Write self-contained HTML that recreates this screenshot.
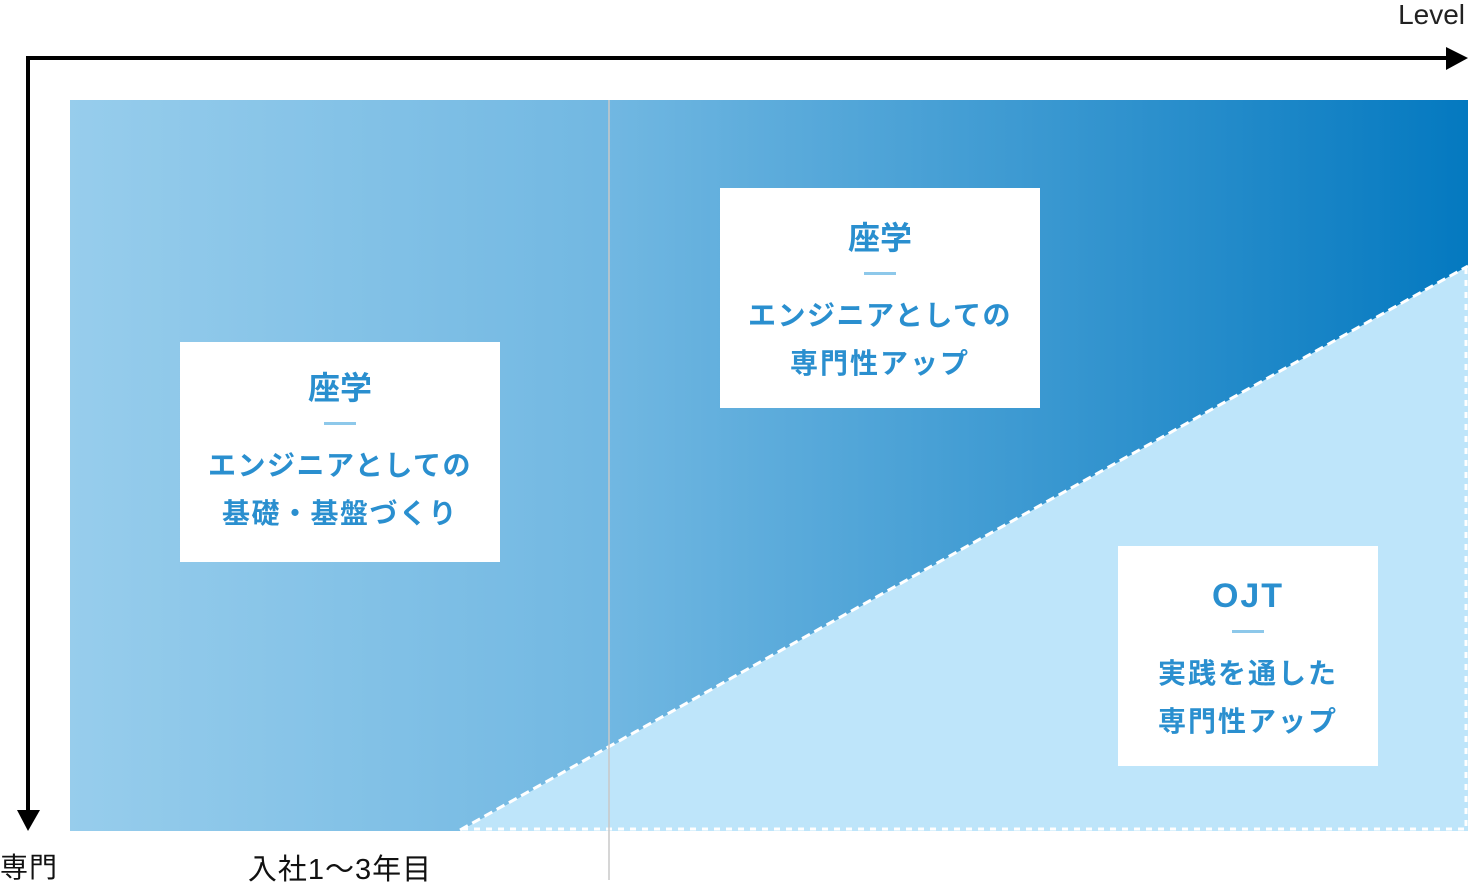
<!DOCTYPE html>
<html><head><meta charset="utf-8"><style>
html,body{margin:0;padding:0;background:#fff;}
svg{display:block}
text{font-family:"Liberation Sans","Noto Sans CJK JP",sans-serif;}
.t{fill:#2a8fcf;font-weight:bold;text-anchor:middle;}
</style></head><body>
<svg width="1468" height="883" viewBox="0 0 1468 883" xmlns="http://www.w3.org/2000/svg">
<defs>
<linearGradient id="g" x1="70" y1="0" x2="1468" y2="0" gradientUnits="userSpaceOnUse">
<stop offset="0" stop-color="#97cdec"/>
<stop offset="0.38" stop-color="#72b8e2"/>
<stop offset="1" stop-color="#0479c0"/>
</linearGradient>
</defs>
<rect x="70" y="100" width="1398" height="731" fill="url(#g)"/>
<polygon points="460,831 1468,266 1468,831" fill="#bee5fa"/>
<line x1="460" y1="830" x2="1468" y2="266" stroke="#fff" stroke-width="3" stroke-dasharray="9,5"/>
<line x1="462" y1="829" x2="1466" y2="829" stroke="#fff" stroke-width="3" stroke-dasharray="6,6"/>
<line x1="1466" y1="268" x2="1466" y2="830" stroke="#fff" stroke-width="3" stroke-dasharray="6,6"/>
<line x1="609" y1="100" x2="609" y2="880" stroke="#c8c8c8" stroke-width="1.5"/>
<polyline points="1448,58 28,58 28,812" fill="none" stroke="#000" stroke-width="4"/>
<polygon points="1446,47 1468,58 1446,70" fill="#000"/>
<polygon points="17,810 28,831 40,810" fill="#000"/>
<text x="1465" y="24" font-size="28" text-anchor="end" fill="#222">Level</text>
<text x="0" y="877" font-size="28" fill="#111" letter-spacing="1">専門</text>
<text x="340" y="879" font-size="29" text-anchor="middle" fill="#111" letter-spacing="1">入社1〜3年目</text>
<rect x="180" y="342" width="320" height="220" fill="#fff"/>
<text class="t" x="340" y="399" font-size="32">座学</text>
<rect x="324" y="422" width="32" height="3" fill="#8dc8ea"/>
<text class="t" x="340" y="475" font-size="28" letter-spacing="1.5">エンジニアとしての</text>
<text class="t" x="340" y="523" font-size="28" letter-spacing="1.5">基礎・基盤づくり</text>
<rect x="720" y="188" width="320" height="220" fill="#fff"/>
<text class="t" x="880" y="249" font-size="32">座学</text>
<rect x="864" y="272" width="32" height="3" fill="#8dc8ea"/>
<text class="t" x="880" y="325" font-size="28" letter-spacing="1.5">エンジニアとしての</text>
<text class="t" x="880" y="373" font-size="28" letter-spacing="2">専門性アップ</text>
<rect x="1118" y="546" width="260" height="220" fill="#fff"/>
<text class="t" x="1248" y="607" font-size="34" letter-spacing="2">OJT</text>
<rect x="1232" y="630" width="32" height="3" fill="#8dc8ea"/>
<text class="t" x="1248" y="683" font-size="28" letter-spacing="2">実践を通した</text>
<text class="t" x="1248" y="731" font-size="28" letter-spacing="2">専門性アップ</text>
</svg>
</body></html>
